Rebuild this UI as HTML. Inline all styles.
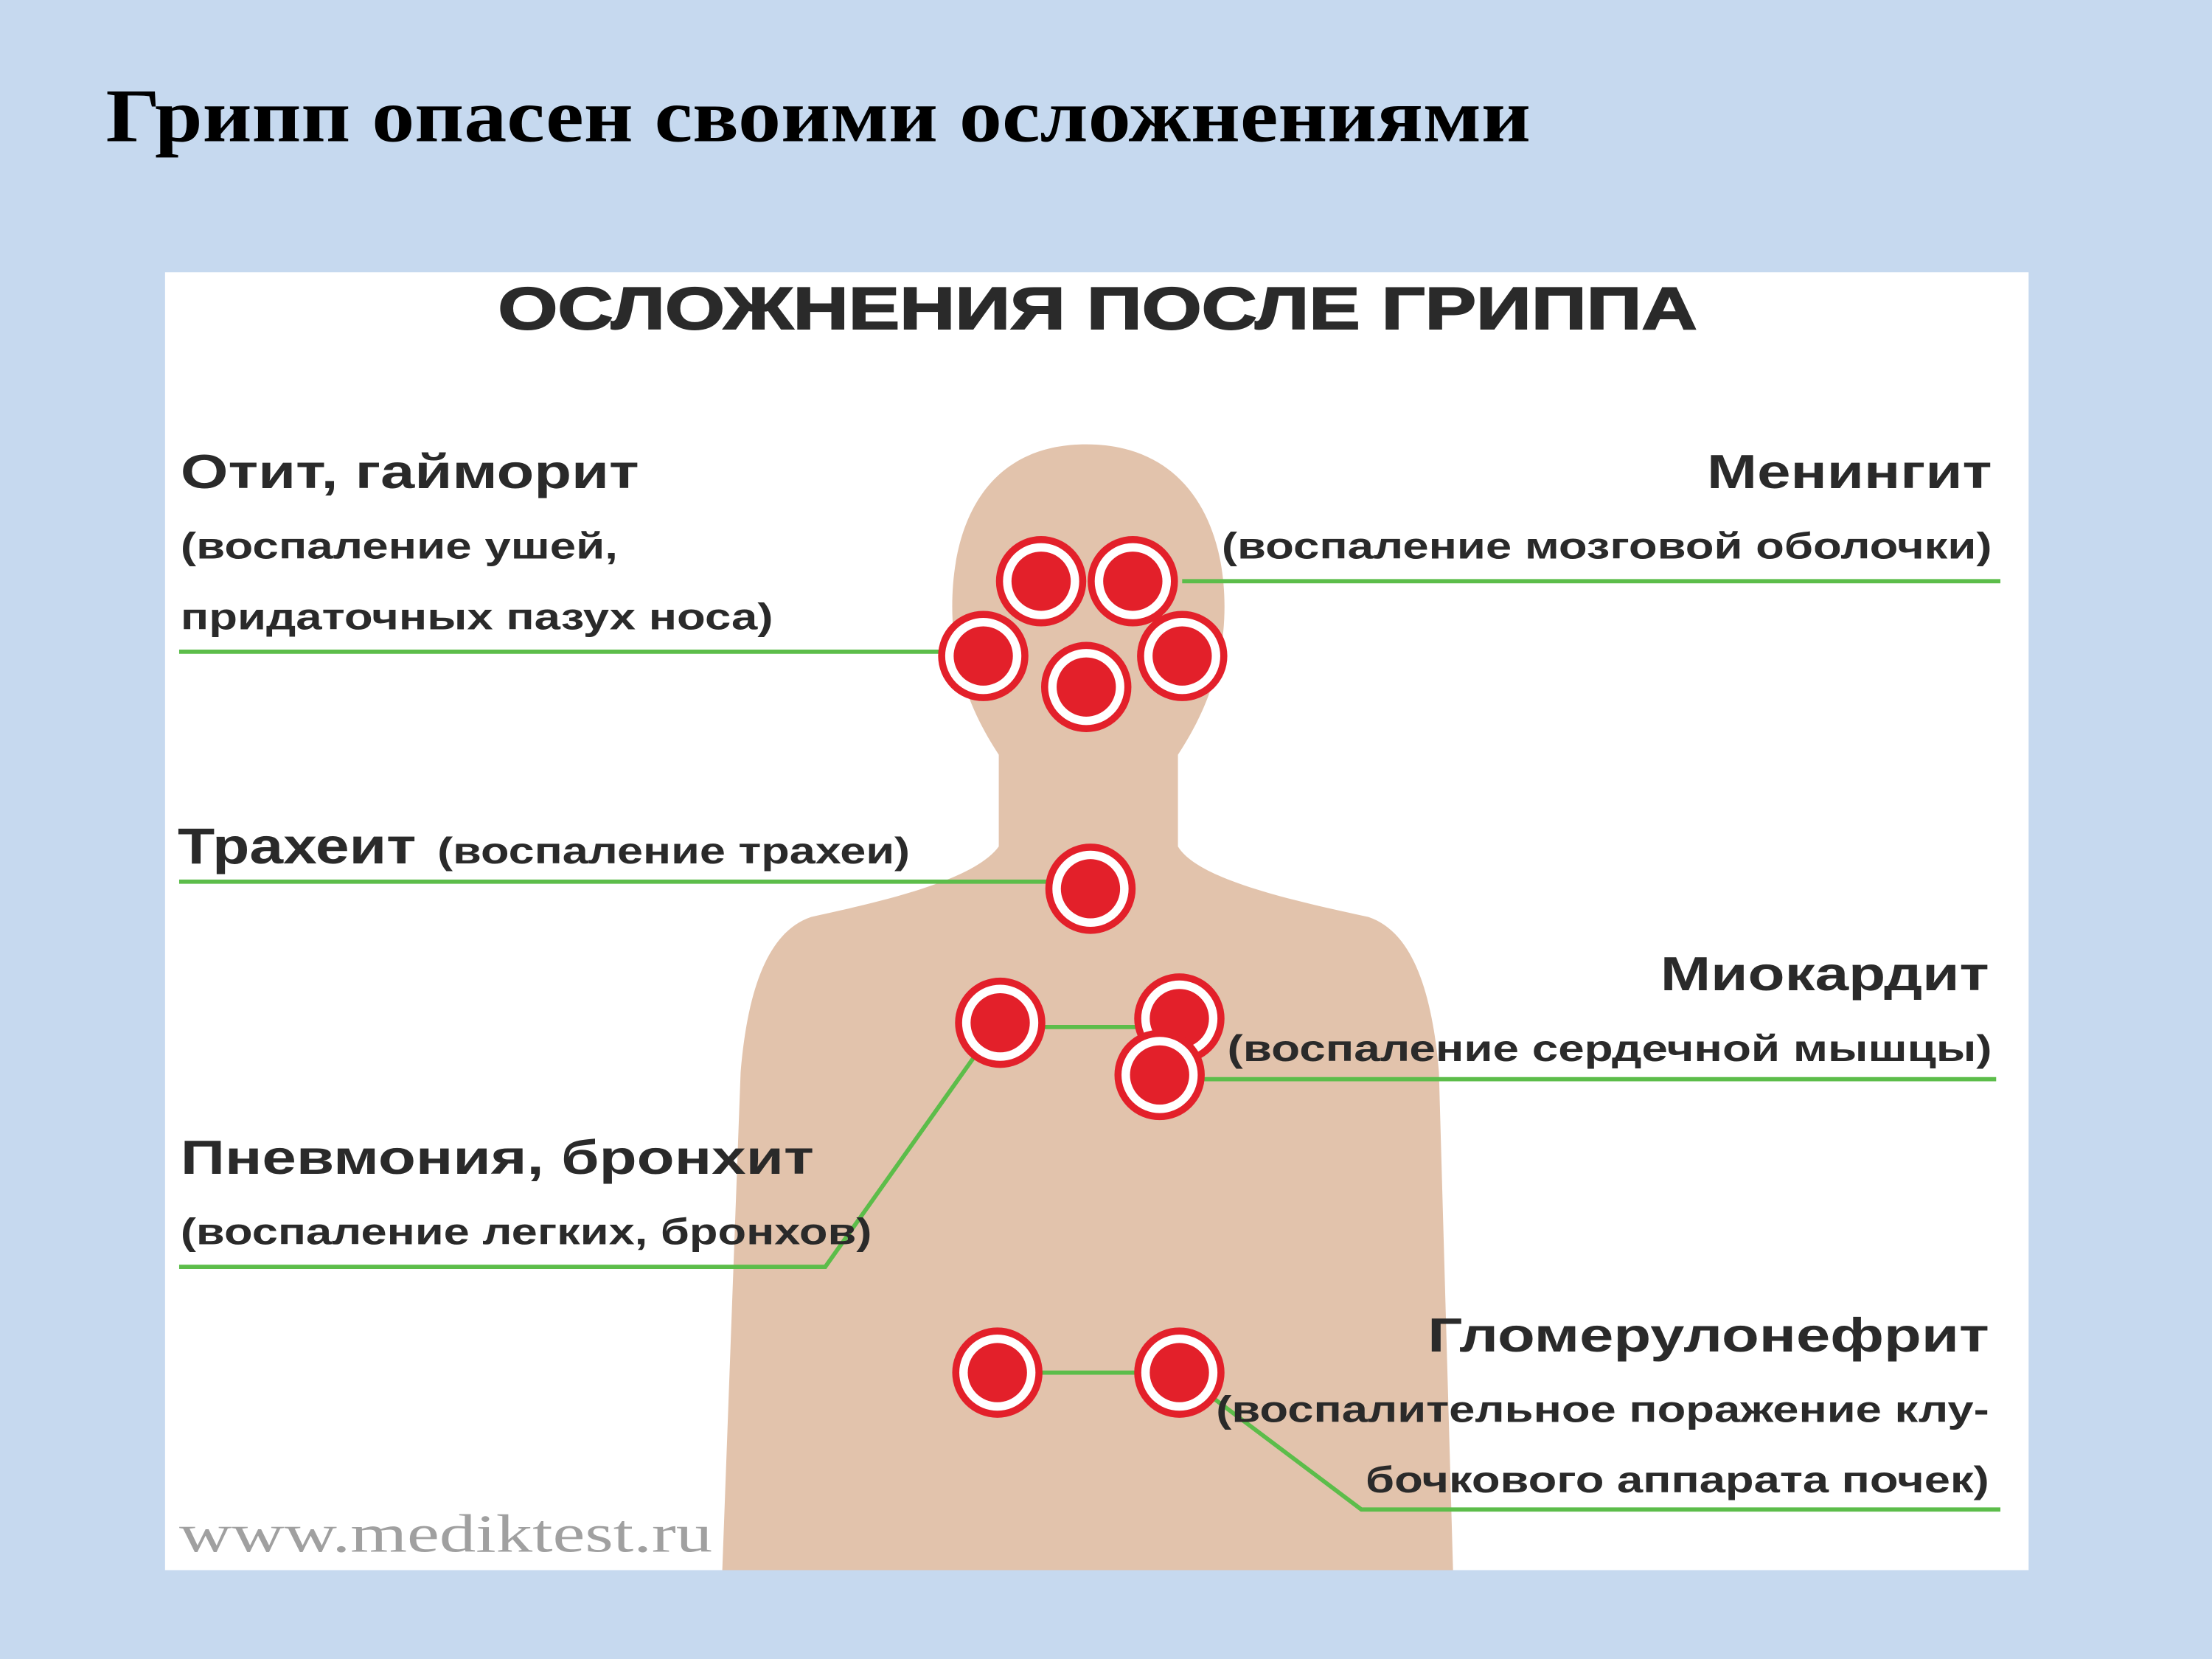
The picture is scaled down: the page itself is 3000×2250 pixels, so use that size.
<!DOCTYPE html>
<html><head><meta charset="utf-8"><style>
html,body{margin:0;padding:0;width:3000px;height:2250px;overflow:hidden;background:#c6d9ef}
svg{display:block}
.s{font-family:"Liberation Sans","DejaVu Sans",sans-serif;font-weight:bold;fill:#2a2a2a}
</style></head><body>
<svg width="3000" height="2250" viewBox="0 0 1568 1176" preserveAspectRatio="none" xmlns="http://www.w3.org/2000/svg">
<defs>
<g id="c"><circle r="32" fill="#e3202a"/><circle r="27" fill="#fff"/><circle r="21" fill="#e3202a"/></g>
</defs>
<rect width="1568" height="1176" fill="#c6d9ef"/>
<text x="75" y="100" font-family="Liberation Serif,serif" font-weight="bold" font-size="54" fill="#000" textLength="1010" lengthAdjust="spacingAndGlyphs">Грипп опасен своими осложнениями</text>
<rect x="117" y="193" width="1321" height="920" fill="#fff"/>
<text x="353" y="233" class="s" font-size="42" stroke="#2a2a2a" stroke-width="1" textLength="850" lengthAdjust="spacingAndGlyphs">ОСЛОЖНЕНИЯ ПОСЛЕ ГРИППА</text>
<path fill="#e2c3ac" d="M770 315 C700 315 675 370 675 430 C675 480 695 515 708 535 L708 600 C690 625 620 640 575 650 C545 660 530 700 525 760 L512 1113 L1030 1113 L1020 760 C1015 700 1000 660 970 650 C925 640 850 625 835 600 L835 535 C848 515 868 480 868 430 C868 370 840 315 770 315 Z"/>
<g stroke="#5cbd4a" stroke-width="3" fill="none">
<line x1="127" y1="462" x2="697" y2="462"/>
<line x1="838" y1="412" x2="1418" y2="412"/>
<line x1="127" y1="625" x2="773" y2="625"/>
<polyline points="127,898 585,898 690,750"/>
<line x1="709" y1="728" x2="836" y2="728"/>
<line x1="822" y1="765" x2="1415" y2="765"/>
<line x1="707" y1="973" x2="836" y2="973"/>
<polyline points="836,973 965,1070 1418,1070"/>
</g>
<use href="#c" x="738" y="412"/><use href="#c" x="803" y="412"/>
<use href="#c" x="697" y="465"/><use href="#c" x="838" y="465"/>
<use href="#c" x="770" y="487"/><use href="#c" x="773" y="630"/>
<use href="#c" x="709" y="725"/><use href="#c" x="836" y="722"/>
<use href="#c" x="822" y="762"/><use href="#c" x="707" y="973"/>
<use href="#c" x="836" y="973"/>
<text x="128" y="346" class="s" font-size="34" textLength="325" lengthAdjust="spacingAndGlyphs">Отит, гайморит</text>
<text x="128" y="396" class="s" font-size="26" textLength="310" lengthAdjust="spacingAndGlyphs">(воспаление ушей,</text>
<text x="128" y="446" class="s" font-size="26" textLength="420" lengthAdjust="spacingAndGlyphs">придаточных пазух носа)</text>
<text x="1210" y="346" class="s" font-size="34" textLength="202" lengthAdjust="spacingAndGlyphs">Менингит</text>
<text x="866" y="396" class="s" font-size="26" textLength="546" lengthAdjust="spacingAndGlyphs">(воспаление мозговой оболочки)</text>
<text x="126" y="612" class="s" font-size="36" textLength="169" lengthAdjust="spacingAndGlyphs">Трахеит</text>
<text x="310" y="612" class="s" font-size="26" textLength="335" lengthAdjust="spacingAndGlyphs">(воспаление трахеи)</text>
<text x="1177" y="702" class="s" font-size="34" textLength="233" lengthAdjust="spacingAndGlyphs">Миокардит</text>
<text x="870" y="752" class="s" font-size="26" textLength="542" lengthAdjust="spacingAndGlyphs">(воспаление сердечной мышцы)</text>
<text x="128" y="832" class="s" font-size="34" textLength="449" lengthAdjust="spacingAndGlyphs">Пневмония, бронхит</text>
<text x="128" y="882" class="s" font-size="26" textLength="490" lengthAdjust="spacingAndGlyphs">(воспаление легких, бронхов)</text>
<text x="1012" y="958" class="s" font-size="34" textLength="398" lengthAdjust="spacingAndGlyphs">Гломерулонефрит</text>
<text x="862" y="1008" class="s" font-size="26" textLength="548" lengthAdjust="spacingAndGlyphs">(воспалительное поражение клу-</text>
<text x="968" y="1058" class="s" font-size="26" textLength="442" lengthAdjust="spacingAndGlyphs">бочкового аппарата почек)</text>
<text x="127" y="1100" font-family="Liberation Serif,serif" font-size="38" fill="#a0a0a0" textLength="378" lengthAdjust="spacingAndGlyphs">www.mediktest.ru</text>
</svg>
</body></html>
